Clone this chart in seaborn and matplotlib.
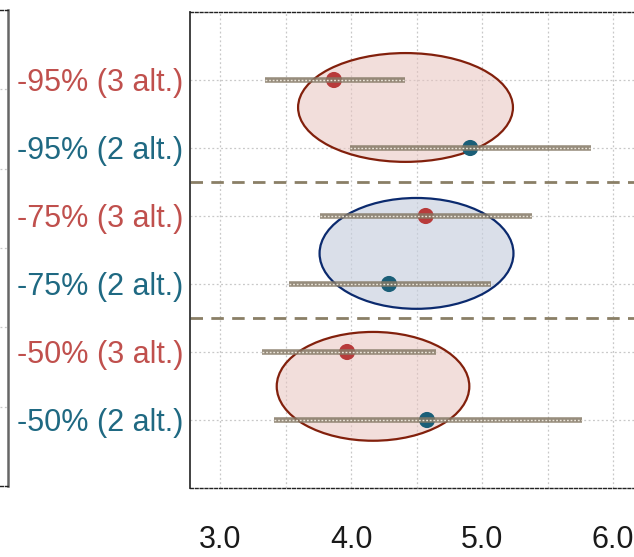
import numpy as np
import pandas as pd
import matplotlib
matplotlib.use("Agg")
import matplotlib.pyplot as plt
from matplotlib.patches import Ellipse
from matplotlib.ticker import MultipleLocator
import seaborn as sns

# Scenario rows, top to bottom
labels = ["-95% (3 alt.)", "-95% (2 alt.)", "-75% (3 alt.)",
          "-75% (2 alt.)", "-50% (3 alt.)", "-50% (2 alt.)"]
groups = ["3 alt.", "2 alt.", "3 alt.", "2 alt.", "3 alt.", "2 alt."]
estimate = [3.87, 4.91, 4.57, 4.29, 3.97, 4.58]
lower = [3.34, 3.99, 3.76, 3.53, 3.32, 3.41]
upper = [4.41, 5.83, 5.38, 5.07, 4.65, 5.76]

# Highlight ellipses: centre x, centre y (row units), width, height, kind
ell_cx = [4.416, 4.50, 4.168]
ell_cy = [0.404, 2.55, 4.505]
ell_w = [1.64, 1.48, 1.47]
ell_h = [1.60, 1.63, 1.60]
ell_kind = ["3 alt.", "2 alt.", "3 alt."]

separators = [1.5, 3.5]

df = pd.DataFrame({"label": labels, "group": groups, "estimate": estimate,
                   "lower": lower, "upper": upper})
df["pos"] = np.arange(len(df))

point_colors = {"3 alt.": "#b83b3b", "2 alt.": "#1b5f78"}
label_colors = {"3 alt.": "#c0504d", "2 alt.": "#1f6982"}
ell_edge = {"3 alt.": "#82200c", "2 alt.": "#0b2a6e"}
ell_face = {"3 alt.": (0.91, 0.77, 0.75, 0.55), "2 alt.": (0.78, 0.81, 0.87, 0.65)}

sns.set_style("white")
plt.rcParams["font.family"] = ["Liberation Sans", "DejaVu Sans"]

W, H = 634, 557
fig = plt.figure(figsize=(W / 100, H / 100), dpi=100)

ax_bottom_px, ax_top_px = 488, 12
ax = fig.add_axes([190 / W, 1 - ax_bottom_px / H, 1 - 190 / W,
                   (ax_bottom_px - ax_top_px) / H])

grid_kw = dict(color="#c8c8c8", linestyle=(0, (1.5, 2)), linewidth=0.9)

# Ellipses behind everything
for cx, cy, w, h, k in zip(ell_cx, ell_cy, ell_w, ell_h, ell_kind):
    ax.add_patch(Ellipse((cx, cy), w, h, facecolor=ell_face[k],
                         edgecolor=ell_edge[k], linewidth=1.6, zorder=1))

# Separators between scenario blocks
for s in separators:
    ax.axhline(s, color="#8a7f66", linewidth=2.0, linestyle=(0, (4.5, 3)), zorder=2)

# Points
sns.scatterplot(data=df, x="estimate", y="pos", hue="group", palette=point_colors,
                s=135, edgecolor="none", legend=False, zorder=3, ax=ax)

# Interval bars drawn over the points
for _, r in df.iterrows():
    ax.plot([r["lower"], r["upper"]], [r["pos"], r["pos"]], color="#857966",
            linewidth=4.0, alpha=0.85, solid_capstyle="butt", zorder=4)
    ax.plot([r["lower"], r["upper"]], [r["pos"], r["pos"]], color="#ece6da",
            linewidth=1.0, linestyle=(0, (1.3, 1.3)), zorder=5)

ax.set_xlim(2.771, 6.16)
ax.set_ylim(6, -1)
ax.set_yticks(df["pos"])
ax.set_yticklabels(df["label"])
for t, g in zip(ax.get_yticklabels(), df["group"]):
    t.set_color(label_colors[g])

ax.xaxis.set_major_locator(MultipleLocator(1.0))
ax.xaxis.set_minor_locator(MultipleLocator(0.5))
ax.xaxis.set_major_formatter(matplotlib.ticker.FormatStrFormatter("%.1f"))
ax.set_xlabel("")
ax.set_ylabel("")

ax.tick_params(axis="y", length=0, pad=5, labelsize=22)
ax.tick_params(axis="x", which="both", direction="out", length=11.5, width=1.1,
               color="#333333", pad=15, labelsize=22, labelcolor="#1a1a1a")
ax.tick_params(axis="x", which="minor", length=11.5)

for x in np.arange(3.0, 6.01, 0.5):
    ax.axvline(x, zorder=0, **grid_kw)
for p in df["pos"]:
    ax.axhline(p, zorder=0, **grid_kw)

ax.spines["right"].set_visible(False)
ax.spines["left"].set_color("#333333")
ax.spines["left"].set_linewidth(1.3)
for side in ["top", "bottom"]:
    ax.spines[side].set_color("#222222")
    ax.spines[side].set_linewidth(1.0)
    ax.spines[side].set_linestyle((0, (2, 1.5)))

# Edge of the neighbouring panel on the left
ax2 = fig.add_axes([0, 1 - 486 / H, 7.5 / W, (486 - 10) / H])
ax2.set_xlim(0, 1)
ax2.set_ylim(6, 0)
for p in range(1, 6):
    ax2.axhline(p, **grid_kw)
ax2.set_xticks([])
ax2.set_yticks([])
ax2.spines["left"].set_visible(False)
ax2.spines["right"].set_color("#666666")
ax2.spines["right"].set_linewidth(1.8)
for side in ["top", "bottom"]:
    ax2.spines[side].set_color("#222222")
    ax2.spines[side].set_linewidth(1.0)
    ax2.spines[side].set_linestyle((0, (2, 1.5)))

fig.savefig("out.png", dpi=100)
